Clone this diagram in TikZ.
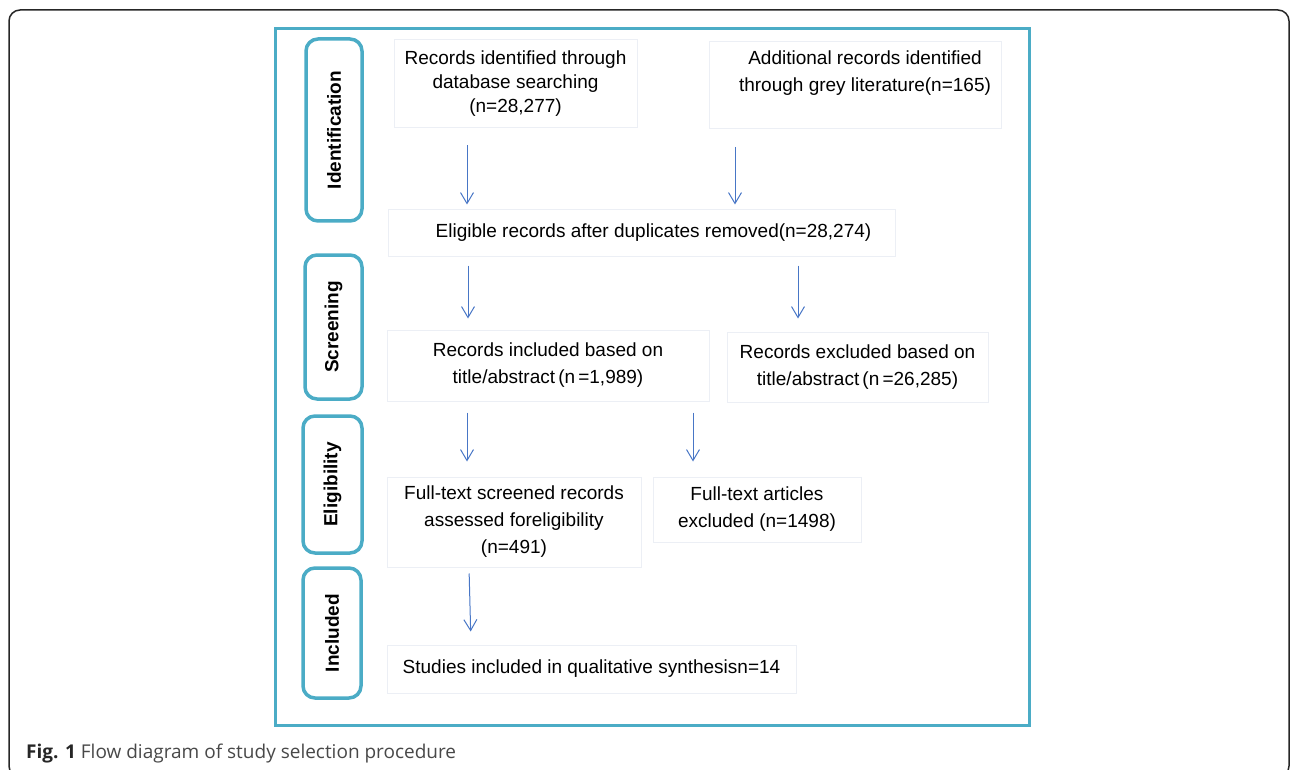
\documentclass[tikz,border=0pt]{standalone}
\usepackage{fontspec}
\setmainfont{Liberation Sans}
\newfontfamily\capfont{Open Sans}
\usetikzlibrary{arrows.meta}
\definecolor{frameblue}{RGB}{75,172,198}
\definecolor{arrowblue}{RGB}{72,118,198}
\definecolor{boxline}{RGB}{236,239,245}
\definecolor{capgray}{RGB}{72,72,72}

\begin{document}
\begin{tikzpicture}[x=1pt,y=-1pt,
    box/.style={draw=boxline,line width=1pt,align=center,inner sep=0pt,
      font=\fontsize{19}{27}\selectfont},
    stage/.style={draw=frameblue,line width=3.5pt,rounded corners=12pt,rotate=90,
      inner sep=0pt,font=\fontsize{19}{23}\selectfont\bfseries},
    arr/.style={arrowblue,line width=1pt,-{Straight Barb[length=11pt,width=13pt]}}]
  \useasboundingbox (0,0) rectangle (1290,770);
  % page frame and blue panel
  \draw[black!85,line width=1.5pt,rounded corners=11pt] (9,10) rectangle (1289,777);
  \draw[frameblue,line width=3pt] (275,29) rectangle (1029,725);
  % stages
  \node[stage,minimum width=182pt,minimum height=56pt] (lid) at (334,130) {Identification};
  \node[stage,minimum width=144pt,minimum height=57pt] (lscr) at (333.5,327) {Screening};
  \node[stage,minimum width=137pt,minimum height=59pt] (lelg) at (332.5,484.5) {Eligibility};
  \node[stage,minimum width=130pt,minimum height=58pt] (linc) at (332,633) {Included};
  % boxes
  \node[box,minimum width=243pt,minimum height=88pt,font=\fontsize{19}{24}\selectfont] (id1) at (515.5,84)
    {Records identified through\\database searching\\(n=28,277)};
  \node[box,minimum width=292pt,minimum height=87pt] (id2) at (855,85)
    {\hspace{20pt}Additional records identified\\\hspace{20pt}through grey literature(n=165)\\\mbox{}};
  \node[box,minimum width=507pt,minimum height=46pt] (dup) at (641.5,233)
    {\hspace{24pt}Eligible records after duplicates removed(n=28,274)};
  \node[box,minimum width=322pt,minimum height=71pt] (scr1) at (548,365.5)
    {Records included based on\\title/abstract\,(n\,=1,989)};
  \node[box,minimum width=261pt,minimum height=70pt] (scr2) at (857.5,367)
    {Records excluded based on\\title/abstract\,(n\,=26,285)};
  \node[box,minimum width=254pt,minimum height=90pt] (elg1) at (514,522)
    {Full-text screened records\\assessed foreligibility\\(n=491)};
  \node[box,minimum width=208pt,minimum height=65pt] (elg2) at (757,509.5)
    {Full-text articles\\excluded (n=1498)};
  \node[box,minimum width=409pt,minimum height=48pt] (inc) at (591.5,669)
    {Studies included in qualitative synthesisn=14};
  % caption
  \node[anchor=base west,inner sep=0pt,text=capgray,font=\capfont\fontsize{19}{23}\selectfont] (cap) at (26,758)
    {\textcolor{black!85}{\textbf{Fig. 1}} Flow diagram of study selection procedure};
  % arrows
  \begin{scope}[arr]
    \draw[shorten <=17pt,shorten >=5pt] ([xshift=-48.5pt]id1.south) -- ([xshift=-174.5pt]dup.north);
    \draw[shorten <=18pt,shorten >=5pt] ([xshift=-120pt]id2.south) -- ([xshift=93.5pt]dup.north);
    \draw[shorten <=9pt,shorten >=11pt] ([xshift=-173.5pt]dup.south) -- ([xshift=-80pt]scr1.north);
    \draw[shorten <=9pt,shorten >=13pt] ([xshift=156.5pt]dup.south) -- ([xshift=-59.5pt]scr2.north);
    \draw[shorten <=11pt,shorten >=15pt] ([xshift=-81pt]scr1.south) -- ([xshift=-47pt]elg1.north);
    \draw[shorten <=11pt,shorten >=15pt] ([xshift=145pt]scr1.south) -- ([xshift=-64pt]elg2.north);
    \draw[shorten <=6pt,shorten >=13pt] ([xshift=-45pt]elg1.south) -- ([xshift=-120.5pt]inc.north);
  \end{scope}
\end{tikzpicture}
\end{document}
